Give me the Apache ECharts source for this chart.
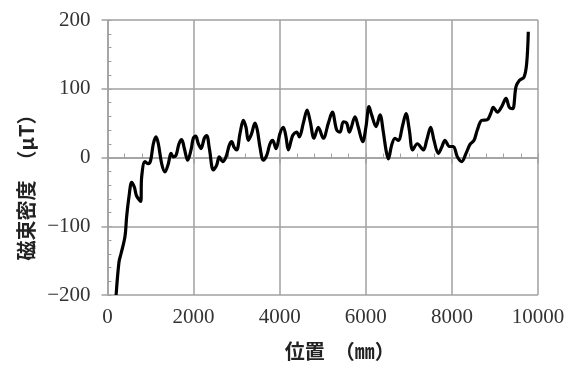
<!DOCTYPE html>
<html>
<head>
<meta charset="utf-8">
<script src="https://cdn.jsdelivr.net/npm/echarts@6/dist/echarts.min.js"></script>
<style>
html,body{margin:0;padding:0;background:#fff;}
#chart{width:574px;height:370px;}
</style>
</head>
<body>
<div id="chart"></div>
<script>
// Position (mm)
var positions = [200,267,314,406,445,499,562,623,677,771,794,871,948,1003,1065,1127,1181,1258,1335,1413,1475,1529,1591,1661,1723,1785,1862,1940,1993,2048,2110,2172,2249,2304,2366,2458,2536,2597,2676,2753,2830,2885,2939,3001,3078,3155,3217,3271,3349,3426,3480,3542,3620,3698,3775,3837,3914,4007,4084,4146,4200,4302,4394,4456,4549,4636,4710,4797,4897,5013,5130,5222,5324,5401,5478,5556,5617,5749,5826,5928,6005,6074,6136,6237,6330,6407,6469,6523,6601,6678,6755,6857,6934,7011,7089,7197,7336,7414,7507,7584,7685,7763,7840,7940,8033,8126,8228,8328,8421,8514,8590,8692,8823,8901,8962,9055,9157,9257,9333,9412,9489,9566,9675,9737,9775];
// Magnetic flux density (μT)
var fluxValues = [-200,-152,-140,-115,-86,-57,-36,-43,-56,-64,-28,-6,-9,-4,20,30,20,-9,-21,-9,6,1,3,20,26,13,-4,11,28,31,20,13,28,32,13,-18,-11,1,-6,1,18,23,15,11,35,54,44,25,35,50,40,15,-4,3,20,25,13,35,44,30,11,32,37,30,50,69,52,28,44,28,50,66,40,37,52,50,37,59,44,23,45,74,62,45,62,37,11,-2,18,28,25,47,64,40,11,20,11,25,44,25,6,15,25,16,16,1,-6,6,19,25,40,54,55,64,73,66,74,86,73,71,103,112,117,137,183];
var xTicks = {min:0, max:10000, interval:2000, minorInterval:400};
var yTicks = {min:-200, max:200, interval:100, minorInterval:20};
var xTitle = '位置　（㎜）';
var yTitle = '磁束密度　（μT）';

var seriesData = positions.map(function(p,i){return [p, fluxValues[i]];});
var gray = '#a0a0a0';
var labelFont = {fontFamily:'Liberation Serif', fontSize:21, color:'#333'};
var titleFont = {fontFamily:'Noto Sans CJK JP', fontWeight:'bold', fontSize:20, color:'#222'};
function plain(v){return String(v).replace('-', '\u2212');}

var chart = echarts.init(document.getElementById('chart'), null, {renderer:'canvas'});
chart.setOption({
  animation:false,
  backgroundColor:'#fff',
  grid:{left:107.5, right:36, top:20, bottom:75, containLabel:false},
  xAxis:[{
    type:'value', min:xTicks.min, max:xTicks.max, interval:xTicks.interval,
    axisLine:{show:true, lineStyle:{color:gray, width:1.5}},
    axisTick:{show:true, inside:false, length:6, lineStyle:{color:gray, width:1.5}},
    splitLine:{show:true, lineStyle:{color:gray, width:1.5}},
    axisLabel:Object.assign({margin:12, formatter:plain}, labelFont),
    name:xTitle, nameLocation:'middle', nameGap:46,
    nameTextStyle:Object.assign({padding:[0,0,0,34]}, titleFont)
  },{
    type:'value', min:xTicks.min, max:xTicks.max, interval:xTicks.minorInterval,
    position:'bottom',
    axisLine:{show:false},
    axisTick:{show:true, inside:true, length:4, lineStyle:{color:gray, width:1}},
    splitLine:{show:false}, axisLabel:{show:false}
  }],
  yAxis:[{
    type:'value', min:yTicks.min, max:yTicks.max, interval:yTicks.interval,
    axisLine:{show:true, lineStyle:{color:gray, width:1.5}},
    axisTick:{show:true, inside:false, length:6, lineStyle:{color:gray, width:1.5}},
    splitLine:{show:true, lineStyle:{color:gray, width:1.5}},
    axisLabel:Object.assign({margin:17, formatter:plain}, labelFont),
    name:yTitle, nameLocation:'middle', nameGap:71, nameRotate:90,
    nameTextStyle:Object.assign({padding:[0,50,0,0]}, titleFont)
  },{
    type:'value', min:yTicks.min, max:yTicks.max, interval:yTicks.minorInterval,
    position:'left',
    axisLine:{show:false},
    axisTick:{show:true, inside:true, length:4, lineStyle:{color:gray, width:1}},
    splitLine:{show:false}, axisLabel:{show:false}
  }],
  series:[{
    type:'line', data:seriesData, xAxisIndex:0, yAxisIndex:0,
    smooth:0.35, symbol:'none',
    lineStyle:{color:'#000', width:3.2}
  }]
});
</script>
</body>
</html>
